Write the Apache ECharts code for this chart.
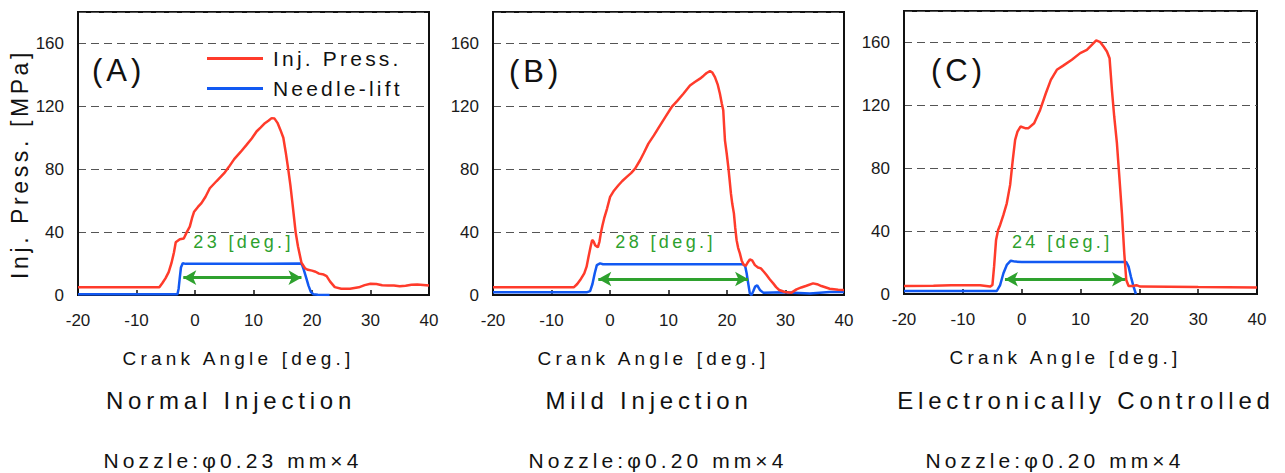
<!DOCTYPE html>
<html><head><meta charset="utf-8">
<script src="https://cdn.jsdelivr.net/npm/echarts@6/dist/echarts.min.js"></script>
<style>html,body{margin:0;padding:0;background:#fff}#c{width:1285px;height:473px}</style>
</head><body><div id="c"></div>
<script>
const FONT = "'Liberation Sans', Arial, sans-serif";
const panelLabels = ['(A)', '(B)', '(C)'];
const panelTitles = ['Normal Injection', 'Mild Injection', 'Electronically Controlled'];
const nozzleTexts = ['Nozzle:\u03c60.23 mm\u00d74', 'Nozzle:\u03c60.20 mm\u00d74', 'Nozzle:\u03c60.20 mm\u00d74'];
const durationLabels = ['23 [deg.]', '28 [deg.]', '24 [deg.]'];
const seriesNames = ['Inj. Press.', 'Needle-lift'];
const xAxisName = 'Crank Angle [deg.]';
const yAxisName = 'Inj. Press. [MPa]';

// Panel A
const pressA = [[-20,5],[-14,5],[-8,5],[-6.1,4.9],[-5.6,7.5],[-5.05,10.6],[-4.5,14.5],[-4.03,20.2],[-3.6,27],[-3.29,33.5],[-2.6,35.4],[-1.92,35.9],[-1.4,40],[-0.89,43.5],[-0.5,49],[-0.15,53],[0.5,56],[1.1,58.4],[1.8,62.5],[2.53,67.9],[3.7,72.5],[4.99,77.5],[5.8,81.5],[6.7,86.4],[7.8,91],[8.81,95.5],[9.7,99.5],[10.52,104],[11.2,106.5],[11.95,109.3],[12.6,111],[13.1,112.5],[13.6,112.2],[14.1,109.5],[14.6,105],[15.1,100],[15.5,91],[15.9,81],[16.3,70],[16.7,57],[17.2,40],[17.6,31],[18.2,20.5],[18.8,17],[19.3,16],[20,15.5],[20.6,14.8],[21.2,13.6],[22,13],[22.5,12],[23.1,8.5],[23.9,5],[25,4],[26.5,4],[28,4.9],[29,6.3],[30,7.2],[31,7],[32,6.2],[33,6],[34,6],[35,5.5],[36,5.9],[37,6.5],[38,6.7],[39,6.4],[40,6]];
const needleA = [[-20,0.4],[-3.0,0.4],[-2.8,4],[-2.6,11],[-2.4,17.5],[-2.1,20.2],[-1.6,19.8],[5,19.8],[12,19.8],[18.0,20],[18.3,19.2],[18.6,16],[19.0,11],[19.4,6],[19.8,2],[20.2,0.5],[21,0.2],[23,0]];
const arrowA = [[-2.0, 11], [18.2, 11]];
const labelPosA = [8.3, 33.8];

// Panel B
const pressB = [[-20,4.9],[-12,4.9],[-6.2,4.9],[-5.6,7],[-5.1,9.5],[-4.4,13.8],[-4,18],[-3.67,24.3],[-3.3,31],[-3.05,35],[-2.8,34],[-2.54,31.7],[-2.08,30.3],[-1.8,34],[-1.57,39.2],[-1.3,44],[-1,48.7],[-0.5,55],[0.02,62.4],[0.7,66.5],[1.44,69.8],[2.1,72.5],[2.87,75.1],[3.6,77.5],[4.29,80.4],[5.14,85.7],[5.8,90.5],[6.56,96.3],[7.5,101.5],[8.56,107.9],[9.5,113.5],[10.55,119.6],[11.5,123.5],[12.54,128],[13.67,133.3],[14.5,135.5],[15.38,137.6],[16,139.5],[16.52,141.2],[17.09,142.4],[17.5,141.5],[17.94,138.6],[18.4,134],[18.79,128],[19.1,122],[19.36,117.5],[19.5,108],[19.65,98.4],[19.95,90],[20.22,81.5],[20.45,73],[20.67,64.6],[20.9,58],[21.18,51.9],[21.4,43],[21.64,34.9],[21.9,30],[22.2,26.5],[22.5,22],[22.8,19.5],[23.2,18.5],[23.6,21],[23.9,22.6],[24.3,22],[24.77,19],[25.3,17.5],[25.79,16.9],[26.3,14.8],[26.76,12.7],[27.3,10],[27.9,7.4],[28.4,5],[28.92,3.2],[29.89,1.9],[31.02,1.5],[31.88,3.6],[32.7,4.8],[33.58,5.9],[34.72,7.4],[35.4,6.9],[36.14,5.7],[37.56,4],[39,3.4],[40,3.2]];
const needleB = [[-20,1.7],[-4,1.7],[-3.4,2.5],[-3.0,7],[-2.6,14],[-2.25,19],[-1.7,20.1],[-1.2,19.6],[10,19.5],[22.7,19.6],[23.1,18.5],[23.35,14],[23.6,8],[23.9,1],[24.2,0],[24.5,2.5],[24.8,5.3],[25.17,6.1],[25.62,3.2],[26.19,1.5],[29.6,1.7],[34.15,1],[37.56,1.9],[40,1.9]];
const arrowB = [[-2.0, 10.2], [23.6, 10.2]];
const labelPosB = [9.5, 33.9];

// Panel C
const pressC = [[-20,5.1],[-15,5.3],[-12,5.5],[-9.9,5.5],[-7.07,5.5],[-5.37,4.7],[-4.97,5.7],[-4.69,17.4],[-4.35,34.4],[-4.0,40.7],[-3.66,43.9],[-3.1,50.3],[-2.53,57.7],[-1.96,69.4],[-1.51,85.3],[-1.11,98],[-0.71,103.3],[-0.2,106.5],[0.59,105.5],[1.16,105.5],[2.12,108.6],[3.14,117.1],[4.11,127.7],[4.96,136.2],[5.98,142.6],[7,145.1],[8.53,149],[9.95,153.2],[11.08,155.3],[11.93,158.5],[12.67,161.3],[13.35,160.2],[13.92,157.4],[14.49,154.2],[14.94,150],[15.34,129.9],[15.73,112.9],[16.19,95.9],[16.64,72.6],[17.04,51.4],[17.44,25.9],[17.78,8.9],[18.17,5.1],[18.91,5.1],[19.5,5.6],[20.16,4.7],[30,4.4],[40,4.2]];
const needleC = [[-20,1.9],[-4.23,1.9],[-3.66,5.7],[-3.1,13.2],[-2.53,18.5],[-1.85,21.2],[-1.11,20.6],[0,20.4],[17.78,20.4],[18.17,17.4],[18.57,11],[19.02,4.7],[19.42,0]];
const arrowC = [[-2.84, 9.4], [17.56, 9.4]];
const labelPosC = [6.9, 33.3];

const X_MIN = -20, X_MAX = 40, X_STEP = 10;
const Y_MIN = 0, Y_MAX = 180, Y_STEP = 40;

const RED = '#ff3b2b', BLUE = '#1259f2', GREEN = '#2ea12e';

const pressData = [pressA, pressB, pressC];
const needleData = [needleA, needleB, needleC];
const arrows = [arrowA, arrowB, arrowC];
const labelPos = [labelPosA, labelPosB, labelPosC];

const grids = [
  {left: 78, top: 12, width: 351, height: 283},
  {left: 493, top: 12, width: 351, height: 283},
  {left: 904, top: 11, width: 353, height: 283}
];
const panelLabelPos = [[92, 72], [509, 73], [931, 72]];
const titleX = [231, 649, 1086];
const nozzleX = [233, 658, 1055];

const chart = echarts.init(document.getElementById('c'), null, {renderer: 'svg'});

const xAxes = [], yAxes = [], series = [], graphics = [];
for (let i = 0; i < 3; i++) {
  xAxes.push({
    gridIndex: i, type: 'value', min: X_MIN, max: X_MAX, interval: X_STEP,
    axisLine: {show: true, onZero: false, lineStyle: {color: '#111', width: 2}},
    axisTick: {show: true, inside: true, length: 5, lineStyle: {color: '#111', width: 1.5}},
    axisLabel: {fontSize: 17, color: '#1a1a1a', fontFamily: FONT, margin: 17},
    splitLine: {show: false},
    name: xAxisName, nameLocation: 'middle', nameGap: 54,
    nameTextStyle: {fontSize: 19, color: '#111', fontFamily: FONT, padding: [0, 30, 0, 0]}
  });
  yAxes.push({
    gridIndex: i, type: 'value', min: Y_MIN, max: Y_MAX, interval: Y_STEP,
    axisLine: {show: true, onZero: false, lineStyle: {color: '#111', width: 2}},
    axisTick: {show: false},
    axisLabel: {fontSize: 17, color: '#1a1a1a', fontFamily: FONT, margin: 14, showMaxLabel: false},
    splitLine: {show: true, lineStyle: {color: '#555', width: 1, type: [8, 5]}},
    name: i === 0 ? yAxisName : '', nameLocation: 'middle', nameGap: 45,
    nameTextStyle: {fontSize: 23, color: '#111', fontFamily: FONT, padding: [0, 21, 0, 0]}
  });
  series.push({
    name: seriesNames[1], type: 'line', xAxisIndex: i, yAxisIndex: i,
    data: needleData[i], showSymbol: false, symbol: 'none',
    lineStyle: {color: BLUE, width: 2.5}, itemStyle: {color: BLUE}, z: 3,
    markLine: {
      silent: true, symbol: ['arrow', 'arrow'], symbolSize: [11, 13],
      lineStyle: {color: GREEN, width: 3, type: 'solid'}, itemStyle: {color: GREEN},
      label: {show: false}, emphasis: {disabled: true},
      data: [[{coord: arrows[i][0]}, {coord: arrows[i][1]}]]
    }
  });
  series.push({
    name: seriesNames[0], type: 'line', xAxisIndex: i, yAxisIndex: i,
    data: pressData[i], showSymbol: false, symbol: 'none',
    lineStyle: {color: RED, width: 2.5}, itemStyle: {color: RED}, z: 4,
    markPoint: {
      silent: true, symbol: 'rect', symbolSize: 1, itemStyle: {color: 'rgba(0,0,0,0)'},
      label: {show: true, position: 'inside', color: GREEN, fontSize: 18, fontFamily: FONT, formatter: p => p.name},
      data: [{name: durationLabels[i], coord: labelPos[i]}]
    }
  });
  graphics.push({type: 'text', left: panelLabelPos[i][0], top: panelLabelPos[i][1] - 17,
    style: {text: panelLabels[i], fontSize: 31, fill: '#111', fontFamily: FONT}});
  graphics.push({type: 'text', x: titleX[i], y: 400,
    style: {text: panelTitles[i], fontSize: 24, fill: '#111', fontFamily: FONT, textAlign: 'center', textVerticalAlign: 'middle'}});
  graphics.push({type: 'text', x: nozzleX[i], y: 460,
    style: {text: nozzleTexts[i], fontSize: 21, fill: '#111', fontFamily: FONT, textAlign: 'center', textVerticalAlign: 'middle'}});
}

chart.setOption({
  animation: false,
  backgroundColor: '#fff',
  grid: grids.map(g => Object.assign({show: true, borderColor: '#111', borderWidth: 2, backgroundColor: 'transparent'}, g)),
  xAxis: xAxes,
  yAxis: yAxes,
  legend: {
    left: 207, top: 48, orient: 'vertical', padding: 0, itemWidth: 56, itemHeight: 3, itemGap: 9,
    icon: 'rect', selectedMode: false,
    textStyle: {fontSize: 21, color: '#111', fontFamily: FONT, lineHeight: 21, padding: [0, 0, 0, 5]},
    data: seriesNames
  },
  graphic: graphics,
  series: series
});

// letter spacing of the original typography
const SPACING = {};
SPACING[xAxisName] = 4.2; SPACING[yAxisName] = 3.6;
panelTitles.forEach(t => SPACING[t] = 4.8);
nozzleTexts.forEach(t => SPACING[t] = 4.1);
seriesNames.forEach(t => SPACING[t] = 3.2);
durationLabels.forEach(t => SPACING[t] = 3.4);
panelLabels.forEach(t => SPACING[t] = 4);
function applySpacing() {
  document.querySelectorAll('#c text').forEach(t => {
    const s = SPACING[t.textContent];
    if (s != null && t.getAttribute('letter-spacing') !== s + 'px') t.setAttribute('letter-spacing', s + 'px');
  });
}
chart.on('finished', applySpacing);
chart.on('rendered', applySpacing);
new MutationObserver(applySpacing).observe(document.getElementById('c'), {childList: true, subtree: true});
applySpacing();
setTimeout(applySpacing, 0); setTimeout(applySpacing, 100); setTimeout(applySpacing, 500);
</script></body></html>
